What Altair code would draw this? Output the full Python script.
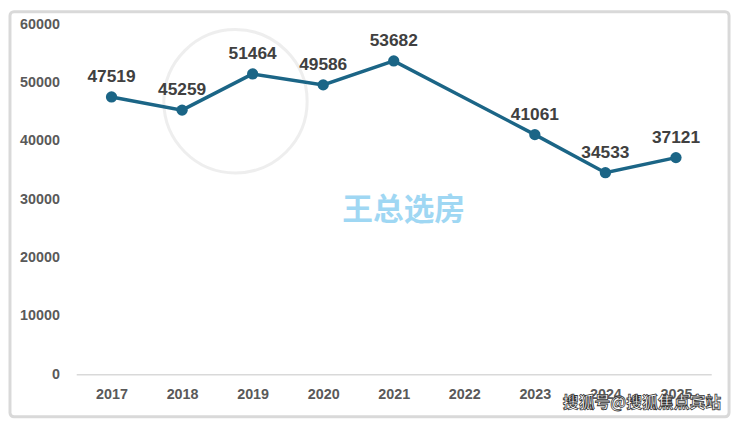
import altair as alt
import pandas as pd

years_all = ["2017", "2018", "2019", "2020", "2021", "2022", "2023", "2024", "2025"]
years = ["2017", "2018", "2019", "2020", "2021", "2023", "2024", "2025"]
values = [47519, 45259, 51464, 49586, 53682, 41061, 34533, 37121]
y_ticks = [0, 10000, 20000, 30000, 40000, 50000, 60000]

df = pd.DataFrame({"year": years, "value": values})

FONT = "Liberation Sans"
LINE = "#1b6586"

x_enc = alt.X("year:O", scale=alt.Scale(domain=years_all, type="point", padding=0.5),
              axis=alt.Axis(title=None, labelAngle=0, ticks=False, domain=True,
                            domainColor="#d9d9d9", domainWidth=1.5, grid=False,
                            labelFont=FONT, labelFontSize=14.5, labelFontWeight="bold",
                            labelColor="#595959", labelPadding=14))
y_enc = alt.Y("value:Q", scale=alt.Scale(domain=[0, 60000], nice=False),
              axis=alt.Axis(title=None, values=y_ticks, format="d", ticks=False, domain=False,
                            grid=False, labelFont=FONT, labelFontSize=14.5, labelFontWeight="bold",
                            labelColor="#595959", labelPadding=17))

base = alt.Chart(df)

line = base.mark_line(color=LINE, strokeWidth=3.5).encode(x=x_enc, y=y_enc)
pts = base.mark_point(filled=True, color=LINE, size=130, opacity=1).encode(x="year:O", y="value:Q")
labels = base.mark_text(font=FONT, fontSize=17.5, color="#404040", dy=-20,
                        fontWeight="bold").encode(x="year:O", y="value:Q", text="value:Q")

frame = alt.Chart(pd.DataFrame({"a": [0]})).mark_rect(
    fill=None, stroke="#d9d9d9", strokeWidth=3, cornerRadius=4, clip=False
).encode(x=alt.value(-67), x2=alt.value(660), y=alt.value(-12.5), y2=alt.value(397))

seal = alt.Chart(pd.DataFrame({"a": [0]})).mark_point(
    shape="circle", size=21000, stroke="#ebebeb", strokeWidth=3, filled=False, opacity=0.8
).encode(x=alt.value(161), y=alt.value(78))

wm = alt.Chart(pd.DataFrame({"t": ["王总选房"]})).mark_text(
    font="Noto Sans CJK SC", fontSize=31, fontWeight="bold", color="#8fd1f2", opacity=0.85
).encode(x=alt.value(331), y=alt.value(189), text="t:N")

sohu = alt.Chart(pd.DataFrame({"t": ["搜狐号@搜狐焦点宾站"]})).mark_text(
    font="Noto Sans CJK SC", fontSize=16, fontWeight="bold", color="white",
    stroke="#333333", strokeWidth=0.8, align="center"
).encode(x=alt.value(572), y=alt.value(383), text="t:N")

chart = alt.layer(seal, wm, line, pts, labels, sohu, frame).properties(
    width=642, height=354,
    autosize=alt.AutoSizeParams(type="none"),
    padding={"left": 69, "top": 14, "right": 21, "bottom": 46},
    background="white",
).configure_view(stroke=None)

chart.save("out.html", embed_options={"renderer": "svg", "actions": False})
